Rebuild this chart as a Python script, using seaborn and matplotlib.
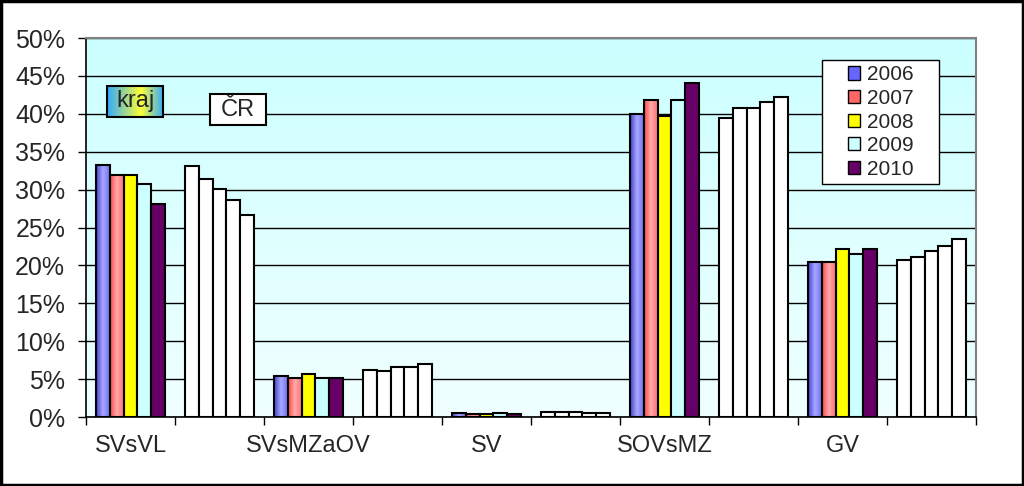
import numpy as np
import pandas as pd
import matplotlib
matplotlib.use('Agg')  # no display
import matplotlib.pyplot as plt
import seaborn as sns
from matplotlib.colors import LinearSegmentedColormap
from matplotlib.patches import Patch, Rectangle
from matplotlib.ticker import FuncFormatter

# --- data (percent) ---
categories = ['SVsVL', 'SVsMZaOV', 'SV', 'SOVsMZ', 'GV']
years = ['2006', '2007', '2008', '2009', '2010']

kraj_2006 = [33.2, 5.4, 0.5, 40.0, 20.4]
kraj_2007 = [31.9, 5.1, 0.4, 41.8, 20.5]
kraj_2008 = [31.9, 5.7, 0.4, 39.7, 22.2]
kraj_2009 = [30.7, 5.2, 0.5, 41.8, 21.5]
kraj_2010 = [28.1, 5.2, 0.4, 44.0, 22.2]

cr_2006 = [33.1, 6.2, 0.6, 39.4, 20.7]
cr_2007 = [31.4, 6.1, 0.6, 40.8, 21.1]
cr_2008 = [30.1, 6.6, 0.6, 40.8, 21.9]
cr_2009 = [28.6, 6.6, 0.5, 41.6, 22.6]
cr_2010 = [26.6, 7.0, 0.5, 42.2, 23.5]

year_colors = ['#6666FF', '#FF6666', '#FFFF00', '#CCFFFF', '#660066']

kraj_series = [kraj_2006, kraj_2007, kraj_2008, kraj_2009, kraj_2010]
cr_series = [cr_2006, cr_2007, cr_2008, cr_2009, cr_2010]

# each category gets two slots: kraj, then ČR
slots = []
for cat in categories:
    slots += [cat, cat + ' ČR']

rows = []
for yi, year in enumerate(years):
    for ci, cat in enumerate(categories):
        rows.append({'slot': cat, 'year': year, 'value': kraj_series[yi][ci]})
        rows.append({'slot': cat + ' ČR', 'year': year, 'value': cr_series[yi][ci]})
df = pd.DataFrame(rows)

sns.set_style('white')
plt.rcParams['font.family'] = ['Liberation Sans', 'DejaVu Sans']
FS_Y = 18
FS_X = 17
FS_BOX = 17
FS_LEG = 15


def gradient_bar(ax, patch, colors):
    x0, y0 = patch.get_x(), patch.get_y()
    w, h = patch.get_width(), patch.get_height()
    cmap = LinearSegmentedColormap.from_list('g', colors)
    grad = np.linspace(0, 1, 64).reshape(1, -1)
    z = patch.get_zorder()
    ax.imshow(grad, cmap=cmap, extent=[x0, x0 + w, y0, y0 + h], aspect='auto',
              interpolation='bilinear', zorder=z)
    patch.set_facecolor('none')
    patch.set_zorder(z + 0.1)


fig = plt.figure(figsize=(10.24, 4.86), dpi=100)
ax = fig.add_axes([86 / 1024, 69 / 486, 890 / 1024, 379 / 486])
ax.set_facecolor('none')

# plot-area background: light cyan fading downwards
bg = LinearSegmentedColormap.from_list('bg', ['#CCFFFF', '#F0FFFF'])
ax.imshow(np.linspace(0, 1, 100).reshape(-1, 1), cmap=bg, extent=(0, 1, 0, 1),
          transform=ax.transAxes, aspect='auto', zorder=0)

sns.barplot(data=df, x='slot', y='value', hue='year', order=slots,
            hue_order=years, palette=year_colors, saturation=1,
            width=0.78, gap=0, edgecolor='black', linewidth=1.5,
            legend=False, ax=ax)

for yi, cont in enumerate(ax.containers):
    for j, bar in enumerate(cont):
        bar.set_zorder(2)
        if j % 2 == 1:
            bar.set_facecolor('white')
        elif yi == 0:
            gradient_bar(ax, bar, ['#4040D0', '#A8A8FF', '#7070F0'])
        elif yi == 1:
            gradient_bar(ax, bar, ['#FF4848', '#FFAAAA', '#FF7070'])

ax.set_xlabel('')
ax.set_ylabel('')

ax.set_yticks(np.arange(0, 51, 5))
ax.yaxis.set_major_formatter(FuncFormatter(lambda v, p: f'{v:.0f}%'))
ax.yaxis.grid(True, color='black', lw=1)
ax.set_axisbelow(True)

ax.set_xticks(np.arange(-0.5, len(slots), 1), [''] * (len(slots) + 1))
ax.set_xticks(np.arange(0, len(slots), 2), categories, minor=True)
ax.tick_params(axis='x', which='major', length=6, width=1, color='black', direction='out')
ax.tick_params(axis='x', which='minor', length=0, pad=13, labelsize=FS_X)
ax.tick_params(axis='y', length=6, width=1, color='black', direction='out', pad=9, labelsize=FS_Y)
ax.tick_params(left=True, bottom=True)

for s in ['left', 'bottom']:
    ax.spines[s].set_color('black')
    ax.spines[s].set_linewidth(1.2)
for s in ['top', 'right']:
    ax.spines[s].set_color('#808080')
    ax.spines[s].set_linewidth(1.5)
    ax.spines[s].set_visible(True)

# "kraj" and "ČR" labels
kb = (0.0236, 0.792, 0.063, 0.081)
kgrad = LinearSegmentedColormap.from_list('kg', [(0.0, '#33AAFF'), (0.6, '#FFFF33'), (1.0, '#33AAFF')])
ax.imshow(np.linspace(0, 1, 64).reshape(1, -1), cmap=kgrad,
          extent=(kb[0], kb[0] + kb[2], kb[1], kb[1] + kb[3]),
          transform=ax.transAxes, aspect='auto', interpolation='bilinear', zorder=3)
ax.add_patch(Rectangle((kb[0], kb[1]), kb[2], kb[3], transform=ax.transAxes,
                       fill=False, edgecolor='black', lw=1.5, zorder=3.1))
ax.text(kb[0] + kb[2] / 2, kb[1] + kb[3] / 2, 'kraj', transform=ax.transAxes,
        ha='center', va='center', fontsize=FS_BOX, zorder=3.2)

cb = (0.139, 0.770, 0.063, 0.082)
ax.add_patch(Rectangle((cb[0], cb[1]), cb[2], cb[3], transform=ax.transAxes,
                       facecolor='white', edgecolor='black', lw=1.5, zorder=3))
ax.text(cb[0] + cb[2] / 2, cb[1] + cb[3] / 2, 'ČR', transform=ax.transAxes,
        ha='center', va='center', fontsize=FS_BOX, zorder=3.2)

ax.set_xlim(-0.5, len(slots) - 0.5)
ax.set_ylim(0, 50)

# legend: fixed frame, entries centred inside
lx0, lx1, ly0, ly1 = 822, 939, 60, 184
fig.patches.append(Rectangle((lx0 / 1024, 1 - ly1 / 486), (lx1 - lx0) / 1024, (ly1 - ly0) / 486,
                             transform=fig.transFigure, facecolor='white',
                             edgecolor='black', lw=1, zorder=5))
handles = [Patch(facecolor=c, edgecolor='black', lw=1) for c in year_colors]
leg = fig.legend(handles, years, loc='center',
                 bbox_to_anchor=((lx0 + lx1) / 2 / 1024, 1 - (ly0 + ly1) / 2 / 486),
                 fontsize=FS_LEG, frameon=False, handlelength=0.6, handleheight=0.6,
                 handletextpad=0.3, labelspacing=0.22, borderpad=0, borderaxespad=0)
leg.set_zorder(6)

# outer frame of the picture
fig.patches.append(Rectangle((0.001, 0.002), 0.998, 0.996, transform=fig.transFigure,
                             fill=False, edgecolor='black', lw=2.5))

fig.savefig('out.png', dpi=100)
